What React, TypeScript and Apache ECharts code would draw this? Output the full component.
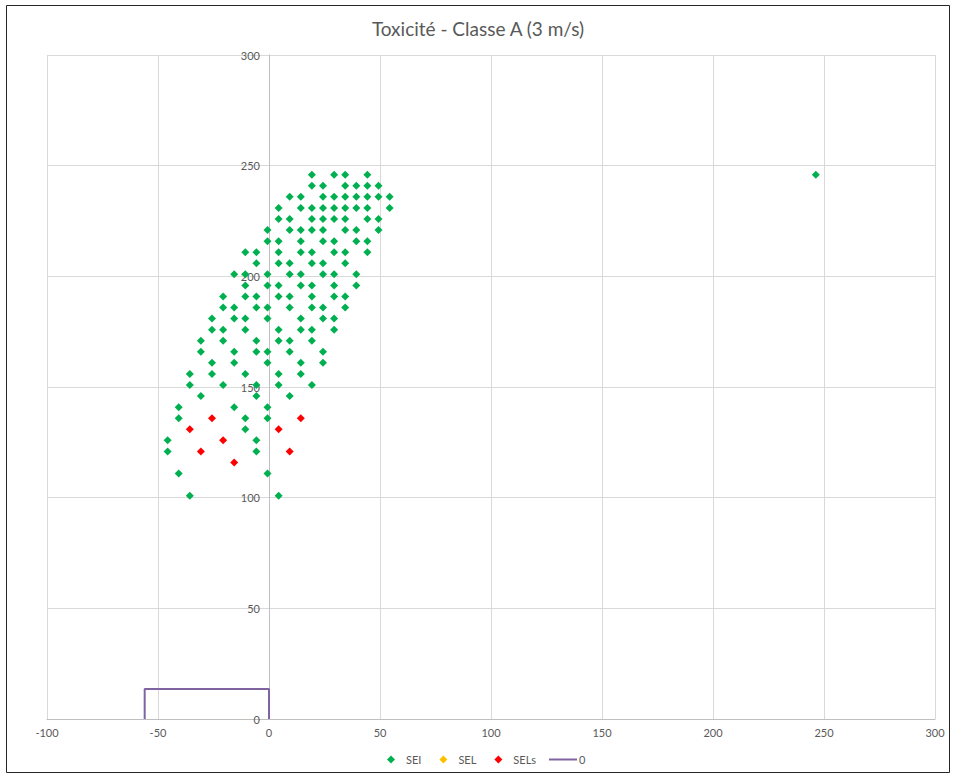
import React, { useEffect, useRef } from "react";
import * as echarts from "echarts";

const chartTitle = "Toxicité - Classe A (3 m/s)";
const seriesNames = ["SEI", "SEL", "SELs", "0"];

// SEI points, grouped by row (y value) with the x values present in that row
const seiRowY = [245, 240, 235, 230, 225, 220, 215, 210, 205, 200, 195, 190, 185, 180, 175, 170, 165, 160, 155, 150, 145, 140, 135, 130, 125, 120, 110, 100];
const seiRowX = [
  [20, 30, 35, 45],
  [20, 25, 35, 40, 45, 50],
  [10, 15, 25, 30, 35, 40, 45, 50, 55],
  [5, 15, 20, 25, 30, 35, 40, 45, 55],
  [5, 10, 20, 25, 30, 35, 45, 50],
  [0, 10, 15, 20, 25, 35, 40, 50],
  [0, 5, 15, 25, 30, 40, 45],
  [-10, -5, 5, 15, 20, 30, 35, 45],
  [-5, 5, 10, 20, 25, 35],
  [-15, -10, 0, 10, 15, 25, 30, 40],
  [-10, 0, 5, 15, 20, 30, 40],
  [-20, -10, -5, 5, 10, 20, 30, 35],
  [-20, -15, -5, 0, 10, 20, 25, 35],
  [-25, -15, -10, 0, 15, 25, 30],
  [-25, -20, -10, 5, 15, 20, 30],
  [-30, -20, -5, 5, 10, 20],
  [-30, -15, -5, 0, 10, 25],
  [-25, -15, 0, 15, 25],
  [-35, -25, -10, 5, 15],
  [-35, -20, -5, 5, 20],
  [-30, -5, 10],
  [-40, -15, 0],
  [-40, -10, 0],
  [-10],
  [-45, -5],
  [-45, -5],
  [-40, 0],
  [-35, 5],
];
const seiOutlier = [247, 245];

// SEL: no visible points
const selX: number[] = [];
const selY: number[] = [];

// SELs points
const selsX = [-35, -25, -20, -30, -15, 5, 15, 10];
const selsY = [130, 135, 125, 120, 115, 130, 135, 120];

// "0" outline
const zoneX = [-56, -56, 0, 0];
const zoneY = [0, 13.5, 13.5, 0];

const xMin = -100, xMax = 300, xStep = 50;
const yMin = 0, yMax = 300, yStep = 50;

const FONT = "Lato, 'Open Sans', sans-serif";
const TXT = "#595959";

const W = 956, H = 776;
const GL = 47, GR = 21, GT = 55, GB = 57;

export default function App() {
  const ref = useRef<HTMLDivElement>(null);
  useEffect(() => {
    if (!ref.current) return;
    const chart = echarts.init(ref.current, undefined, { renderer: "svg" });

    const seiData: number[][] = [];
    seiRowY.forEach((y, i) => seiRowX[i].forEach((x) => seiData.push([x, y])));
    seiData.push(seiOutlier);
    const selData = selX.map((x, i) => [x, selY[i]]);
    const selsData = selsX.map((x, i) => [x, selsY[i]]);
    const zoneData = zoneX.map((x, i) => [x, zoneY[i]]);

    const mk = { symbol: "diamond", symbolSize: 8, symbolOffset: [-1.5, -2] };
    // shift the y axis (line + labels) onto x = 0
    const plotW = W - GL - GR;
    const yAxisOffset = -((0 - xMin) / (xMax - xMin)) * plotW;

    chart.setOption({
      animation: false,
      backgroundColor: "#ffffff",
      title: {
        text: chartTitle,
        left: "center",
        top: 14,
        textStyle: { fontFamily: FONT, fontSize: 19, fontWeight: "normal", color: TXT },
      },
      grid: { left: GL, right: GR, top: GT, bottom: GB, containLabel: false },
      xAxis: {
        type: "value",
        min: xMin,
        max: xMax,
        interval: xStep,
        axisLine: { show: true, onZero: true, lineStyle: { color: "#BFBFBF", width: 1 } },
        axisTick: { show: false },
        axisLabel: { color: TXT, fontFamily: FONT, fontSize: 11, margin: 8 },
        splitLine: { show: true, lineStyle: { color: "#D9D9D9", width: 1 } },
      },
      yAxis: {
        type: "value",
        min: yMin,
        max: yMax,
        interval: yStep,
        offset: yAxisOffset,
        axisLine: { show: true, onZero: false, lineStyle: { color: "#BFBFBF", width: 1 } },
        axisTick: { show: false },
        axisLabel: { color: TXT, fontFamily: FONT, fontSize: 11, margin: 9 },
        splitLine: { show: true, lineStyle: { color: "#D9D9D9", width: 1 } },
      },
      legend: [
        {
          data: [seriesNames[0], seriesNames[1], seriesNames[2]],
          left: 382,
          top: 749,
          itemWidth: 8,
          itemHeight: 8,
          itemGap: 18,
          icon: "diamond",
          textStyle: { color: TXT, fontFamily: FONT, fontSize: 11, padding: [0, 0, 0, 6] },
        },
        {
          data: [{ name: seriesNames[3], icon: "path://M0,0 L28,0 L28,2 L0,2 Z" }],
          left: 544,
          top: 749,
          itemWidth: 28,
          itemHeight: 14,
          itemStyle: { color: "#8064A2" },
          textStyle: { color: TXT, fontFamily: FONT, fontSize: 11, padding: [0, 0, 0, -3] },
        },
      ],
      series: [
        {
          name: seriesNames[3],
          type: "line",
          data: zoneData,
          symbol: "none",
          showSymbol: false,
          lineStyle: { color: "#8064A2", width: 2 },
          itemStyle: { color: "#8064A2" },
          z: 2,
        },
        { name: seriesNames[0], type: "scatter", data: seiData, ...mk, itemStyle: { color: "#00B050", opacity: 1 }, z: 3 },
        { name: seriesNames[1], type: "scatter", data: selData, ...mk, itemStyle: { color: "#FFC000", opacity: 1 }, z: 3 },
        { name: seriesNames[2], type: "scatter", data: selsData, ...mk, itemStyle: { color: "#FF0000", opacity: 1 }, z: 4 },
      ],
      graphic: [
        {
          type: "rect",
          shape: { x: 6.5, y: 5.5, width: 943, height: 767 },
          style: { fill: "none", stroke: "#262626", lineWidth: 1 },
          silent: true,
          z: 100,
        },
      ],
    });
    return () => chart.dispose();
  }, []);
  return (
    <div
      ref={ref}
      style={{ position: "absolute", left: 0, top: 0, width: W, height: H }}
    />
  );
}
